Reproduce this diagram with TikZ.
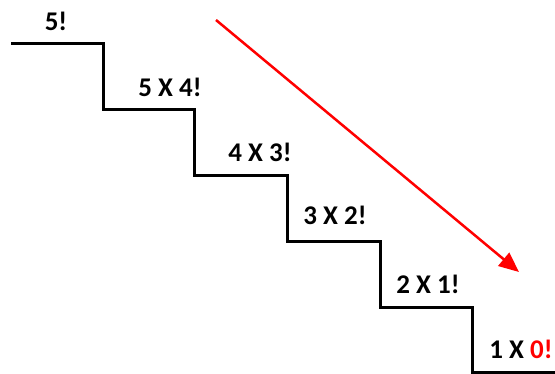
\documentclass[tikz,border=0pt]{standalone}
\usepackage{fontspec}
\setmainfont{Carlito}
\usetikzlibrary{arrows.meta}
\definecolor{pred}{RGB}{255,0,0}
\begin{document}
\begin{tikzpicture}[x=1pt,y=-1pt,
  lbl/.style={font=\fontsize{27}{30}\selectfont\bfseries, inner sep=0pt, text=black},
  stair/.style={line width=3pt, black, line join=miter},
  redarrow/.style={line width=2.5pt, pred, -{Triangle[length=20pt,width=17pt]}}]
\useasboundingbox (0,0) rectangle (555,373);
\coordinate (s0) at (11,43);
\coordinate (s1) at (103,43);
\coordinate (s2) at (103,109);
\coordinate (s3) at (194,109);
\coordinate (s4) at (194,175);
\coordinate (s5) at (287,175);
\coordinate (s6) at (287,241);
\coordinate (s7) at (380,241);
\coordinate (s8) at (380,307);
\coordinate (s9) at (472,307);
\coordinate (s10) at (472,372);
\coordinate (s11) at (556,372);
\draw[stair] (s0) -- (s1) -- (s2) -- (s3) -- (s4) -- (s5) -- (s6) -- (s7) -- (s8) -- (s9) -- (s10) -- (s11);
\node[lbl] (l0) at (56,21.5) {5!};
\node[lbl] (l1) at (170,87) {5 X 4!};
\node[lbl] (l2) at (260,152) {4 X 3!};
\node[lbl] (l3) at (335,215) {3 X 2!};
\node[lbl] (l4) at (428,284) {2 X 1!};
\node[lbl] (l5) at (521,349.5) {1 X \textcolor{pred}{0!}};
\coordinate (a0) at (216,20);
\coordinate (a1) at (519,272);
\draw[redarrow] (a0) -- (a1);
\end{tikzpicture}
\end{document}
